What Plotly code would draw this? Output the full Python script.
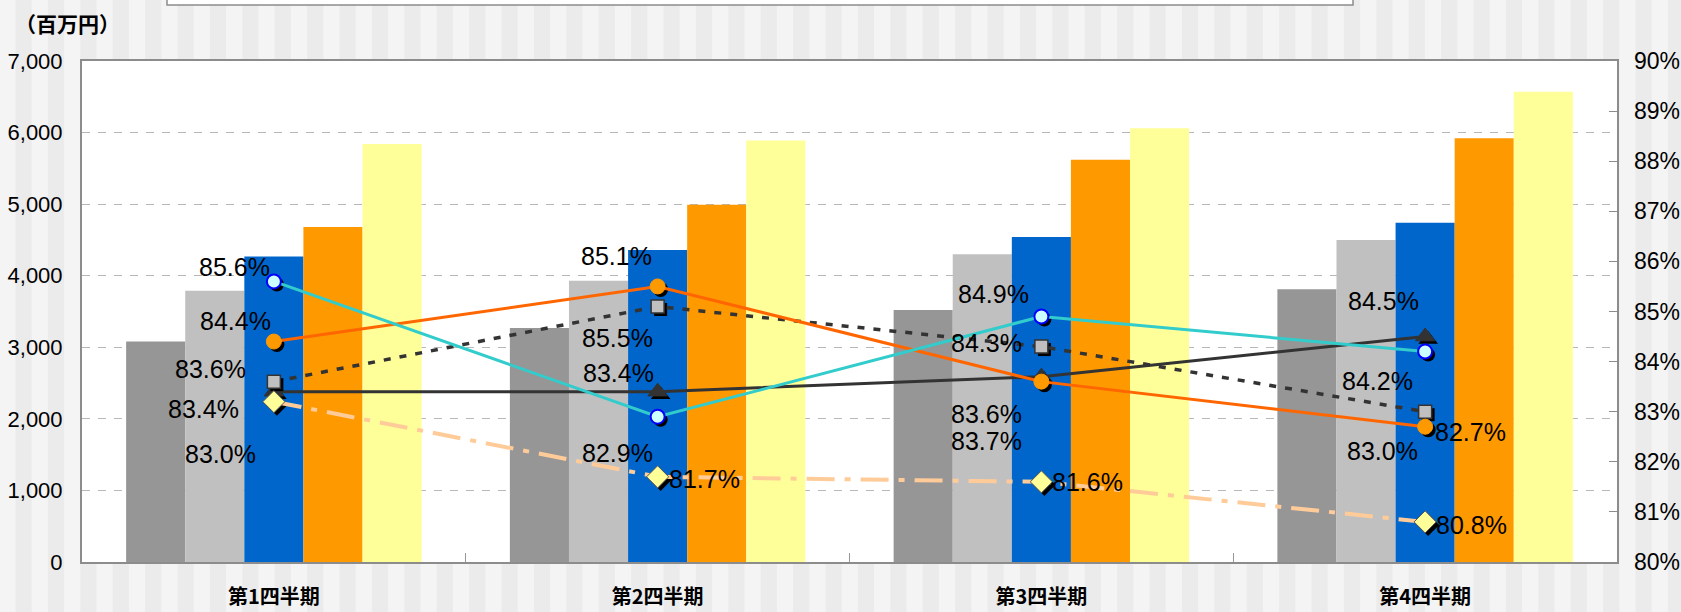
import plotly.graph_objects as go

# ---------------- data ----------------
categories = ["第1四半期", "第2四半期", "第3四半期", "第4四半期"]

bar_a = [3080, 3270, 3520, 3810]   # dark gray
bar_b = [3790, 3930, 4300, 4500]   # light gray
bar_c = [4270, 4360, 4540, 4740]   # blue
bar_d = [4680, 4990, 5620, 5920]   # orange
bar_e = [5840, 5890, 6060, 6570]   # yellow

rate_triangle = [83.4, 83.4, 83.7, 84.5]
rate_square = [83.6, 85.1, 84.3, 83.0]
rate_diamond = [83.2, 81.7, 81.6, 80.8]
rate_orange = [84.4, 85.5, 83.6, 82.7]
rate_cyan = [85.6, 82.9, 84.9, 84.2]

label_triangle = ["83.4%", "83.4%", "83.7%", "84.5%"]
label_square = ["83.6%", "85.1%", "84.3%", "83.0%"]
label_diamond = ["83.0%", "81.7%", "81.6%", "80.8%"]
label_orange = ["84.4%", "85.5%", "83.6%", "82.7%"]
label_cyan = ["85.6%", "82.9%", "84.9%", "84.2%"]

left_unit = "（百万円）"

# ---------------- label offsets (px) ----------------
off_triangle = [(-70, -17), (-39, 19), (-55, -64), (-42, 36)]
off_square = [(-63, 13), (-41, 50), (-55, 4), (-43, -39)]
off_diamond = [(-53, -52), (47, -2), (46, 0), (46, -3)]
off_orange = [(-38, 21), (-40, -52), (-55, -32), (45, -5)]
off_cyan = [(-39, 14), (-40, -36), (-48, 23), (-48, -29)]

# ---------------- geometry ----------------
W, H = 1681, 612
PL, PR, PT, PB = 82, 1617, 61, 562
plot_w, plot_h = PR - PL, PB - PT
xs = list(range(len(categories)))

def px(x):
    return (x - PL) / plot_w

def py(y):
    return (PB - y) / plot_h

num_font = "Liberation Sans Narrow, Arial Narrow, Liberation Sans, Arial, sans-serif"
cjk_font = "Noto Sans CJK JP, sans-serif"

fig = go.Figure()

bar_colors = ["#969696", "#c0c0c0", "#0066cc", "#ff9900", "#ffff99"]
for vals, col in zip([bar_a, bar_b, bar_c, bar_d, bar_e], bar_colors):
    fig.add_trace(go.Bar(x=xs, y=vals, marker=dict(color=col, line=dict(width=0)),
                         showlegend=False, hoverinfo="skip"))

sdx = 3 / (plot_w / len(categories))
sdy = 3 / (plot_h / 10.0)

series = [
    (rate_triangle, dict(color="#333333", width=3), dict(symbol="triangle-up", size=17, color="#333333", line=dict(color="#333333", width=1))),
    (rate_square, dict(color="#333333", width=3.5, dash="7px,9px"), dict(symbol="square", size=13, color="#c0c0c0", line=dict(color="#333333", width=1.5))),
    (rate_diamond, dict(color="#ffcc99", width=4, dash="28px,10px,6px,10px"), dict(symbol="diamond", size=17, color="#ffff99", line=dict(color="#555555", width=1))),
    (rate_orange, dict(color="#ff6600", width=3), dict(symbol="circle", size=15, color="#ff9900", line=dict(color="#ff9900", width=1))),
    (rate_cyan, dict(color="#33cccc", width=3), dict(symbol="circle", size=14, color="#ccffff", line=dict(color="#0000ff", width=2))),
]

for vals, line, marker in series:
    fig.add_trace(go.Scatter(x=[v + sdx for v in xs], y=[v - sdy for v in vals], yaxis="y2",
                             mode="markers",
                             marker=dict(symbol=marker["symbol"], size=marker["size"], color="#000000"),
                             showlegend=False, hoverinfo="skip"))
    fig.add_trace(go.Scatter(x=xs, y=vals, yaxis="y2", mode="lines+markers",
                             line=line, marker=marker, showlegend=False))

annotations = []
for vals, labels, offs in [(rate_triangle, label_triangle, off_triangle),
                           (rate_square, label_square, off_square),
                           (rate_diamond, label_diamond, off_diamond),
                           (rate_orange, label_orange, off_orange),
                           (rate_cyan, label_cyan, off_cyan)]:
    for i, (v, t, (dx, dy)) in enumerate(zip(vals, labels, offs)):
        annotations.append(dict(x=xs[i], y=v, xref="x", yref="y2", text=t, showarrow=False,
                                xshift=dx, yshift=dy,
                                font=dict(family=num_font, size=25, color="#000000")))

annotations.append(dict(x=px(67), y=py(23), xref="paper", yref="paper", text="<b>" + left_unit + "</b>",
                        showarrow=False, xanchor="center", yanchor="middle",
                        font=dict(family=cjk_font, size=21, color="#000000")))

# background stripes
shapes = []
period = 32.4
start = 15.5
k = 0
while start + k * period < W:
    x0 = start + k * period
    shapes.append(dict(type="rect", xref="paper", yref="paper", x0=px(x0), x1=px(x0 + period / 2),
                       y0=py(H + 5), y1=py(-5), fillcolor="#ebebeb", line=dict(width=0), layer="below"))
    k += 1
shapes.append(dict(type="rect", xref="paper", yref="paper", x0=0, x1=1, y0=0, y1=1,
                   fillcolor="#ffffff", line=dict(width=0), layer="below"))
# clipped legend box at the top
shapes.append(dict(type="rect", xref="paper", yref="paper", x0=px(167), x1=px(1353), y0=py(5), y1=py(-10),
                   fillcolor="#ffffff", line=dict(color="#8c8c8c", width=1.5), layer="below"))

fig.update_layout(
    width=W, height=H,
    margin=dict(l=PL, r=W - PR, t=PT, b=H - PB, pad=0, autoexpand=False),
    paper_bgcolor="#f4f4f4", plot_bgcolor="#ffffff",
    barmode="group", bargap=0.23, bargroupgap=0,
    showlegend=False,
    shapes=shapes, annotations=annotations,
    xaxis=dict(range=[-0.5, len(categories) - 0.5], tickmode="array", tickvals=xs, ticktext=categories,
               ticks="", showgrid=False, zeroline=False, automargin=False,
               showline=True, linecolor="#8c8c8c", linewidth=2, mirror=True,
               tickfont=dict(family=cjk_font, size=20, color="#000000", weight="bold"),
               ticklabelstandoff=16,
               minor=dict(tickmode="array", tickvals=[i + 0.5 for i in xs[:-1]], ticks="inside",
                          ticklen=9, tickcolor="#999999", tickwidth=1, showgrid=False)),
    yaxis=dict(range=[0, 7000], dtick=1000, tickformat=",", showgrid=True, automargin=False,
               gridcolor="#b8b8b8", griddash="8px,8px", gridwidth=1, zeroline=False,
               showline=True, linecolor="#8c8c8c", linewidth=2, mirror=True, ticks="",
               tickfont=dict(family=num_font, size=22, color="#000000"), ticklabelstandoff=13),
    yaxis2=dict(range=[80, 90], dtick=1, ticksuffix="%", overlaying="y", side="right",
                showgrid=False, zeroline=False, ticks="inside", ticklen=8, tickcolor="#8c8c8c",
                tickwidth=1, showline=False, automargin=False,
                tickfont=dict(family=num_font, size=23, color="#000000"), ticklabelstandoff=16),
)

fig.write_html("out.html", config={"displayModeBar": False},
               post_script="document.body.style.margin='0';")
